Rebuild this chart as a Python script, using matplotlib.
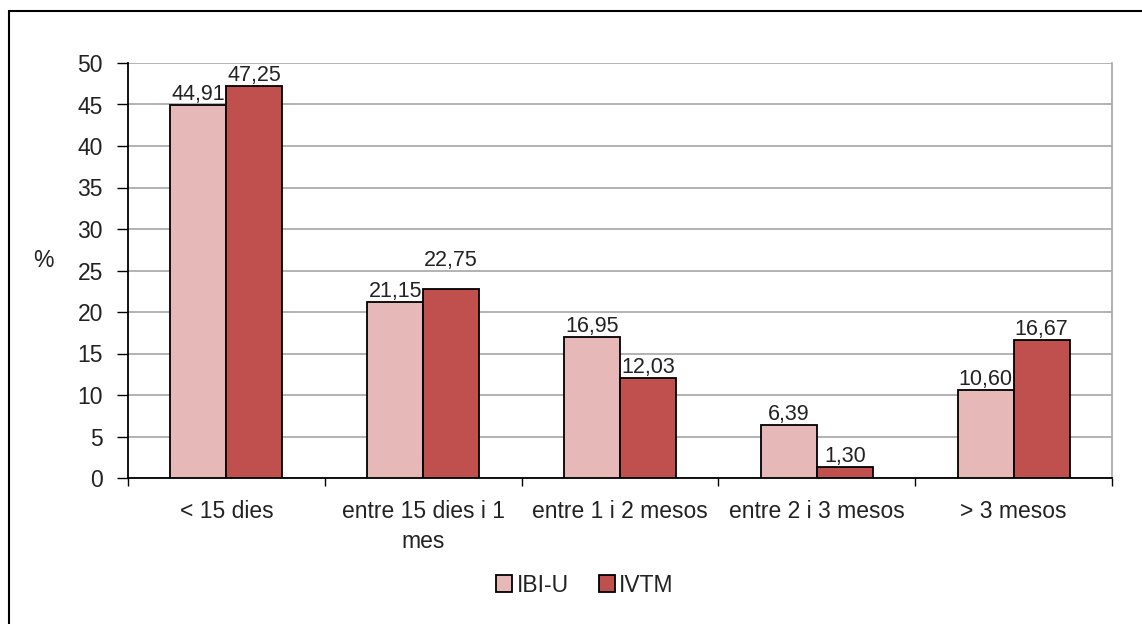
import matplotlib.pyplot as plt
import numpy as np
from matplotlib.patches import Rectangle

categorias = ['< 15 dies', 'entre 15 dies i 1\nmes', 'entre 1 i 2 mesos',
              'entre 2 i 3 mesos', '> 3 mesos']
ibi_u = [44.91, 21.15, 16.95, 6.39, 10.60]
ivtm = [47.25, 22.75, 12.03, 1.30, 16.67]
series = ['IBI-U', 'IVTM']

plt.rcParams['font.family'] = ['Liberation Sans', 'DejaVu Sans']
text_col = '#222222'

fig = plt.figure(figsize=(11.42, 6.24), dpi=100)
fig.patches.append(Rectangle((9 / 1142, -0.1), 1.2, 1.1 - 10.5 / 624,
                             transform=fig.transFigure, fill=False,
                             edgecolor='black', linewidth=1.5))
ax = fig.add_axes([128 / 1142, 1 - 478 / 624, 984 / 1142, 415 / 624])

x = np.arange(len(categorias))
w = 0.285
b1 = ax.bar(x - w / 2, ibi_u, w, color='#E6B9B8', edgecolor='black',
            linewidth=1.3, label=series[0], zorder=3)
b2 = ax.bar(x + w / 2, ivtm, w, color='#C0504D', edgecolor='black',
            linewidth=1.3, label=series[1], zorder=3)

def fmt(v):
    return f'{v:.2f}'.replace('.', ',')

for bars, vals in ((b1, ibi_u), (b2, ivtm)):
    for i, (r, v) in enumerate(zip(bars, vals)):
        off = 0
        if bars is b2 and i == 1:
            off = 13
        ax.annotate(fmt(v), (r.get_x() + r.get_width() / 2, v),
                    xytext=(0, off), textcoords='offset points',
                    ha='center', va='bottom', fontsize=15.5, color=text_col,
                    zorder=4)

ax.set_xlim(-0.5, len(categorias) - 0.5)
ax.set_ylim(0, 50)
ax.set_yticks(np.arange(0, 51, 5))
ax.yaxis.grid(True, color='#A6A6A6', linewidth=1.2, zorder=0)
ax.tick_params(axis='y', direction='out', length=8, width=1, pad=10,
               labelsize=16.5, labelcolor=text_col)

ax.set_xticks(np.arange(len(categorias) + 1) - 0.5)
ax.set_xticklabels([])
ax.set_xticks(x, minor=True)
ax.set_xticklabels(categorias, minor=True, fontsize=16.5, color=text_col,
                   linespacing=1.35)
ax.tick_params(axis='x', which='major', direction='out', length=6, width=1)
ax.tick_params(axis='x', which='minor', length=0, pad=16)

for s in ['left', 'bottom']:
    ax.spines[s].set_color('black')
    ax.spines[s].set_linewidth(1.3)
ax.spines['top'].set_visible(False)
ax.spines['right'].set_color('#A6A6A6')
ax.spines['right'].set_linewidth(1.2)

ax.set_ylabel('%', rotation=0, fontsize=16.5, color=text_col)
ax.yaxis.set_label_coords(-85 / 984, (478 - 272) / 415, transform=ax.transAxes)

fig.legend(handles=[b1, b2], labels=series, loc='center',
           bbox_to_anchor=(585 / 1142, 1 - 585 / 624), ncol=2, frameon=False,
           fontsize=16.5, handlelength=0.7, handleheight=0.7, handletextpad=0.2,
           columnspacing=1.3, labelcolor=text_col)

fig.savefig('out.png', dpi=100)
